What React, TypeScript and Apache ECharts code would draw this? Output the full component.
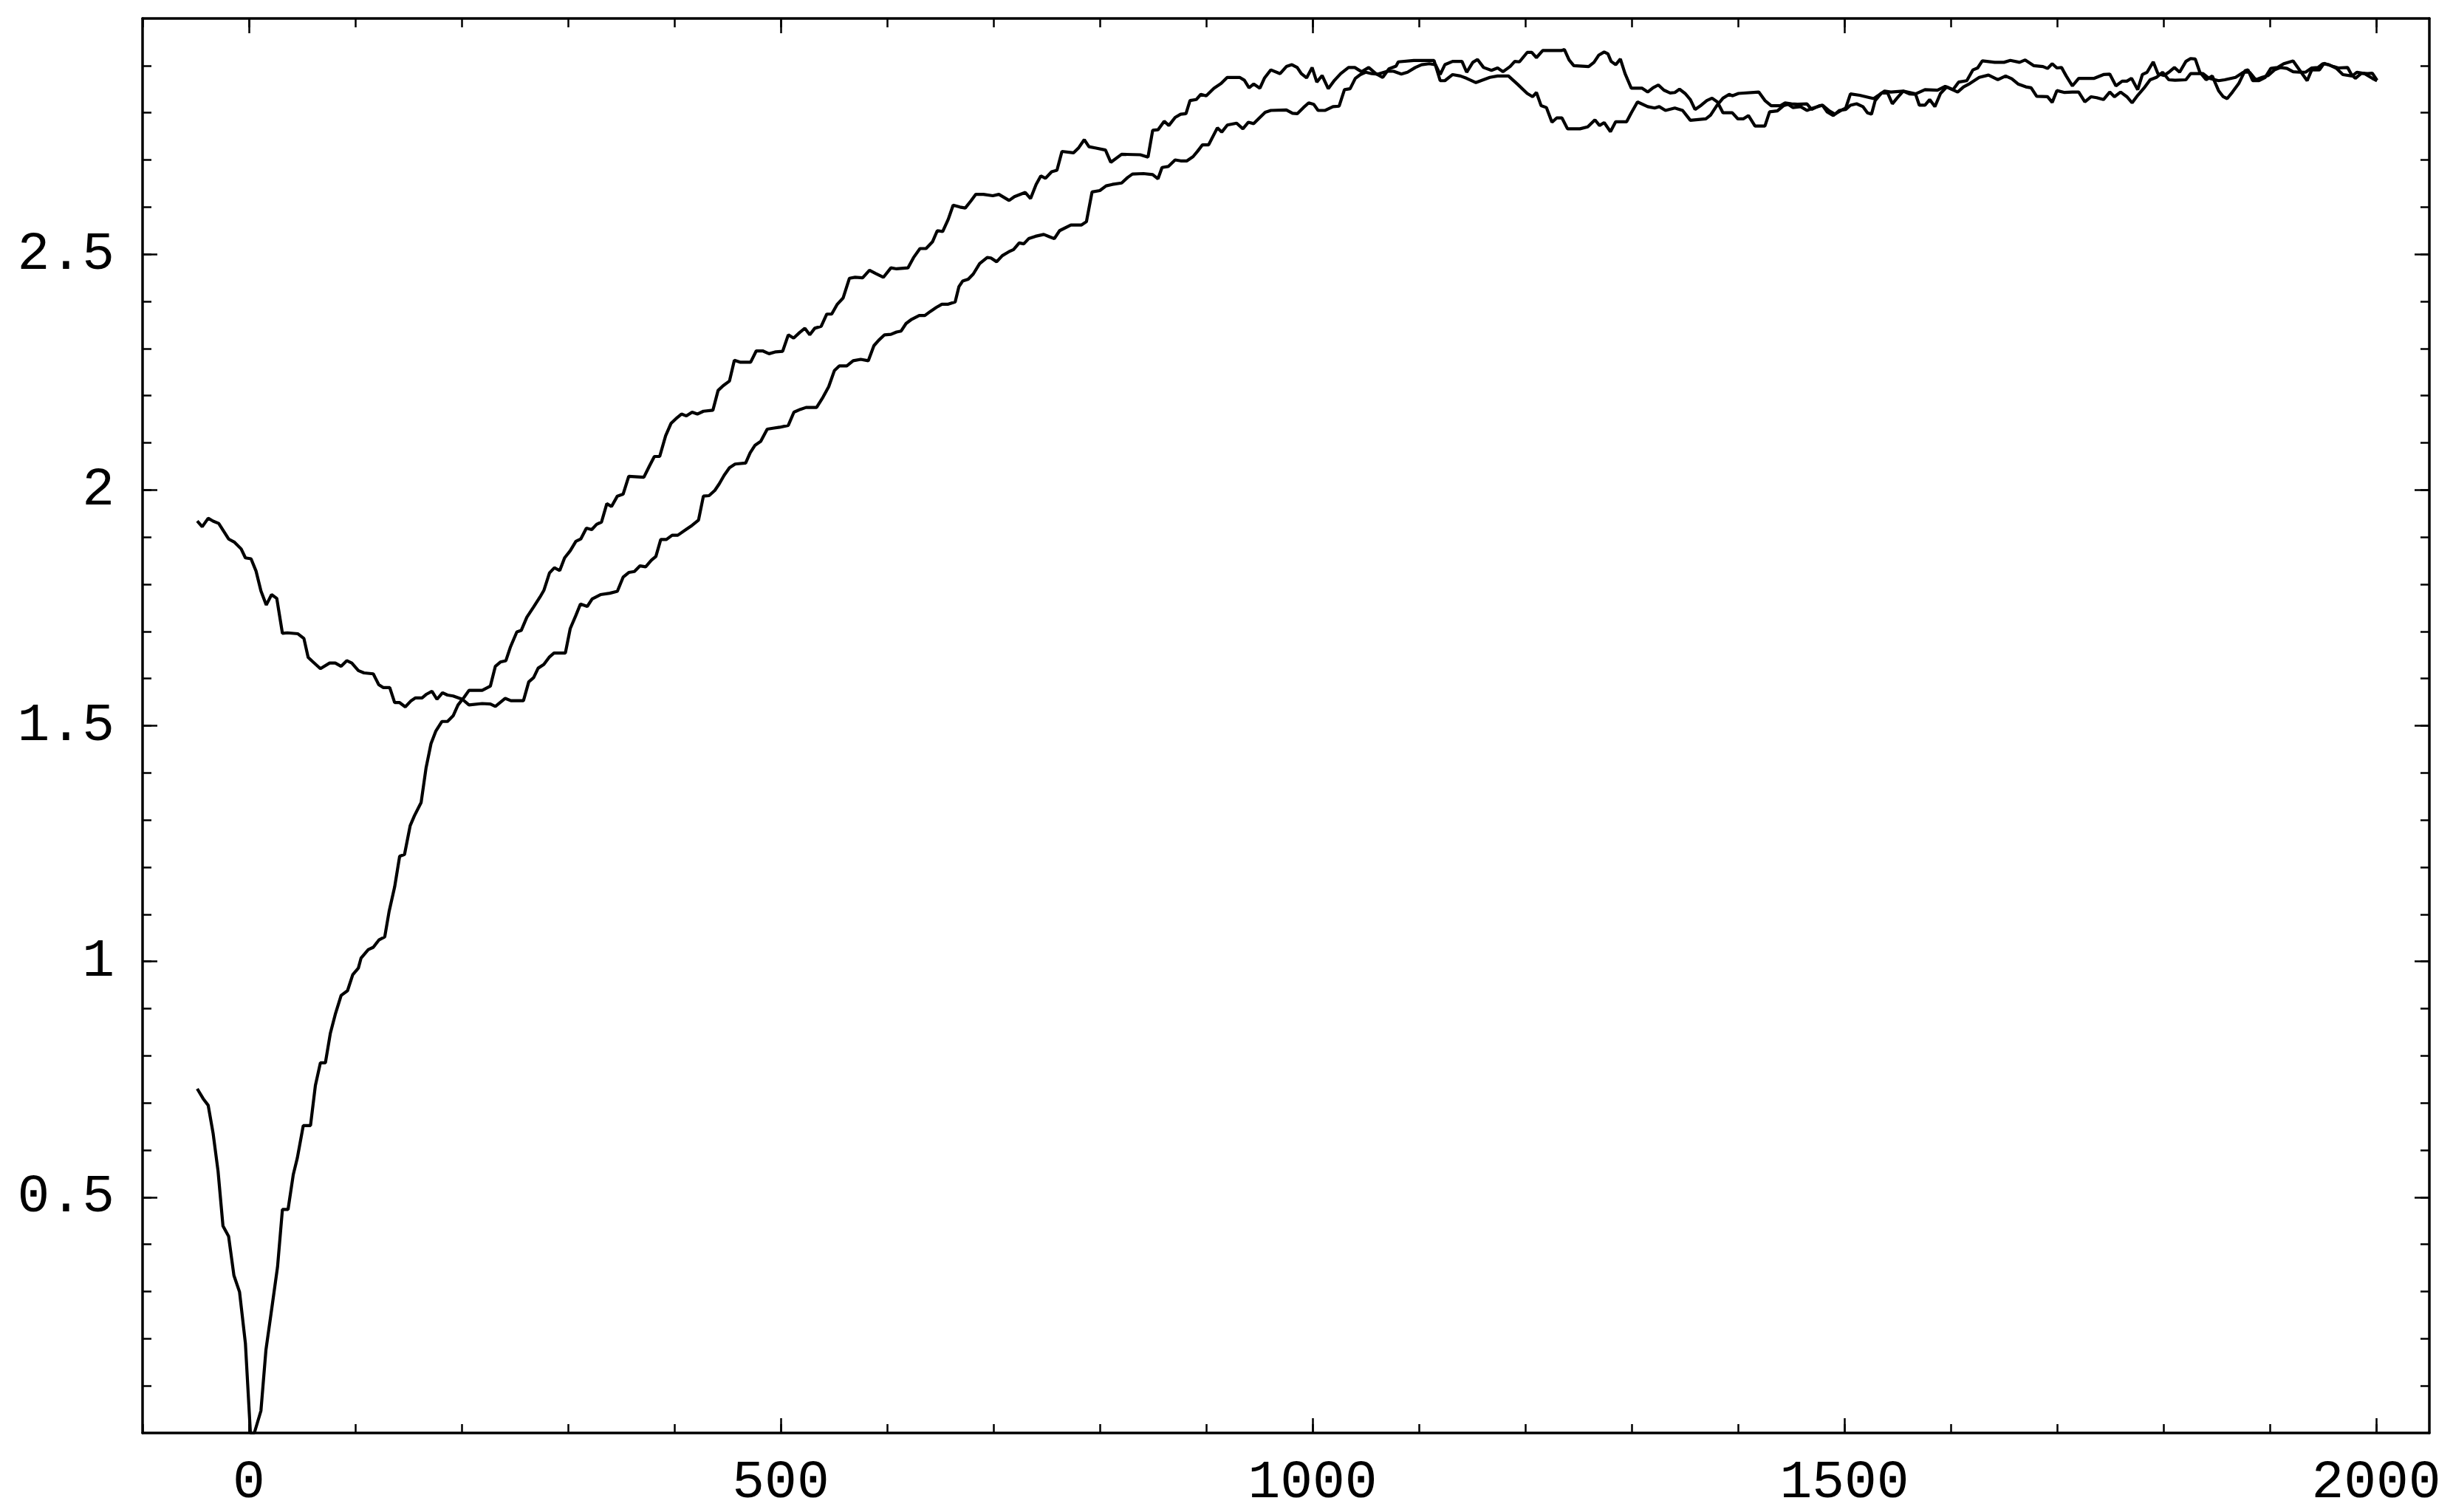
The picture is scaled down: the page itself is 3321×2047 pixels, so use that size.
import React, { useEffect, useRef } from 'react';
import * as echarts from 'echarts';

// tick positions
const xMajorTicks = [0, 500, 1000, 1500, 2000];
const yMajorTicks = [0.5, 1, 1.5, 2, 2.5];

// trace starting high on the left (~1.93), dips to ~1.54, then climbs
const traceA: [number, number][] = [
  [-48.6, 1.934], [-43.9, 1.922], [-38.3, 1.94], [-33.7, 1.934], [-28.4, 1.929], [-19.1, 1.896], [-13.5, 1.889],
  [-7.3, 1.875], [-3.3, 1.856], [2.0, 1.854], [6.7, 1.828], [11.3, 1.786], [16.3, 1.756], [21.3, 1.778],
  [26.2, 1.77], [31.5, 1.696], [36.2, 1.697], [46.1, 1.695], [51.7, 1.685], [55.7, 1.645], [59.4, 1.637],
  [67.2, 1.621], [75.9, 1.633], [81.2, 1.633], [86.7, 1.626], [92.0, 1.638], [96.7, 1.633], [102.9, 1.617],
  [108.2, 1.612], [116.9, 1.61], [122.1, 1.587], [126.2, 1.581], [132.4, 1.581], [137.0, 1.549], [141.7, 1.549],
  [147.0, 1.54], [152.5, 1.553], [156.6, 1.559], [162.8, 1.559], [167.1, 1.567], [172.1, 1.573], [176.8, 1.556],
  [182.0, 1.57], [186.7, 1.565], [192.0, 1.563], [200.7, 1.556], [206.9, 1.544], [219.3, 1.547], [227.0, 1.546],
  [231.7, 1.541], [241.0, 1.558], [246.3, 1.553], [258.1, 1.553], [263.1, 1.593], [267.7, 1.602], [271.9, 1.622],
  [277.3, 1.63], [282.6, 1.646], [286.8, 1.654], [297.5, 1.654], [302.1, 1.706], [307.4, 1.734], [311.7, 1.758],
  [318.1, 1.753], [322.7, 1.769], [330.5, 1.778], [339.3, 1.781], [346.4, 1.785], [351.8, 1.815], [357.1, 1.825],
  [362.4, 1.827], [367.7, 1.839], [373.0, 1.837], [378.4, 1.851], [382.6, 1.859], [387.2, 1.895], [392.5, 1.895],
  [397.9, 1.904], [403.2, 1.904], [410.3, 1.915], [416.7, 1.925], [422.7, 1.936], [427.3, 1.987], [432.6, 1.988],
  [438.0, 1.999], [442.2, 2.013], [446.8, 2.031], [451.8, 2.047], [457.1, 2.055], [467.0, 2.057], [471.3, 2.079],
  [475.9, 2.095], [481.2, 2.103], [487.3, 2.129], [492.6, 2.131], [499.0, 2.133], [507.1, 2.137], [512.4, 2.165],
  [518.5, 2.171], [523.8, 2.175], [533.7, 2.175], [539.8, 2.197], [545.1, 2.219], [550.4, 2.253], [555.0, 2.263],
  [562.1, 2.263], [568.1, 2.274], [575.2, 2.277], [582.3, 2.274], [587.6, 2.306], [592.3, 2.318], [597.6, 2.329],
  [603.6, 2.33], [608.9, 2.335], [613.2, 2.337], [617.8, 2.353], [623.1, 2.362], [630.2, 2.37], [635.5, 2.37],
  [640.9, 2.379], [646.2, 2.387], [651.5, 2.394], [657.5, 2.394], [664.0, 2.399], [667.5, 2.431], [671.0, 2.443],
  [676.3, 2.447], [681.0, 2.458], [687.0, 2.48], [694.1, 2.493], [697.6, 2.492], [703.0, 2.484], [708.3, 2.497],
  [714.3, 2.505], [718.9, 2.51], [724.2, 2.524], [728.5, 2.522], [733.1, 2.533], [739.5, 2.538], [747.3, 2.542],
  [752.6, 2.537], [757.2, 2.533], [762.2, 2.55], [772.8, 2.562], [782.8, 2.562], [787.4, 2.569], [792.7, 2.632],
  [800.0, 2.635], [805.9, 2.645], [811.7, 2.648], [820.5, 2.651], [826.3, 2.663], [830.7, 2.67], [841.0, 2.671],
  [849.7, 2.669], [854.7, 2.66], [858.5, 2.684], [864.3, 2.686], [870.8, 2.7], [876.0, 2.698], [881.9, 2.698],
  [887.7, 2.707], [892.1, 2.719], [896.5, 2.732], [902.3, 2.732], [910.5, 2.768], [914.6, 2.759], [919.9, 2.774],
  [928.6, 2.778], [934.5, 2.766], [939.7, 2.78], [944.7, 2.777], [950.5, 2.79], [955.5, 2.801], [960.8, 2.805],
  [975.4, 2.806], [981.2, 2.799], [985.6, 2.798], [991.4, 2.811], [996.4, 2.821], [1001.1, 2.818], [1005.2, 2.805],
  [1011.9, 2.805], [1019.2, 2.813], [1025.0, 2.814], [1030.0, 2.849], [1035.3, 2.851], [1040.2, 2.873],
  [1044.9, 2.881], [1049.9, 2.886], [1055.7, 2.883], [1061.6, 2.882], [1070.3, 2.888], [1076.2, 2.888],
  [1083.5, 2.882], [1089.3, 2.886], [1096.6, 2.896], [1102.5, 2.902], [1109.8, 2.904], [1115.6, 2.902],
  [1120.0, 2.881], [1124.4, 2.902], [1131.7, 2.909], [1140.5, 2.909], [1144.9, 2.886], [1150.7, 2.907],
  [1155.1, 2.913], [1160.8, 2.896], [1168.2, 2.89], [1174.0, 2.895], [1179.0, 2.887], [1185.7, 2.898],
  [1190.1, 2.909], [1194.5, 2.908], [1201.8, 2.928], [1206.1, 2.928], [1210.5, 2.917], [1216.4, 2.932],
  [1233.9, 2.932], [1236.8, 2.934], [1241.2, 2.912], [1245.6, 2.9], [1259.6, 2.898], [1264.6, 2.907],
  [1269.0, 2.922], [1274.2, 2.929], [1277.7, 2.925], [1280.7, 2.909], [1285.0, 2.902], [1289.4, 2.914],
  [1293.8, 2.883], [1299.7, 2.852], [1309.9, 2.852], [1315.1, 2.844], [1320.1, 2.853], [1325.1, 2.859],
  [1330.3, 2.848], [1336.2, 2.842], [1340.6, 2.843], [1345.0, 2.85], [1350.2, 2.841], [1355.2, 2.828],
  [1359.6, 2.807], [1365.4, 2.816], [1370.7, 2.826], [1375.6, 2.831], [1380.6, 2.823], [1385.9, 2.8],
  [1394.6, 2.8], [1399.9, 2.787], [1404.9, 2.787], [1409.8, 2.794], [1416.0, 2.772], [1425.3, 2.772],
  [1429.7, 2.802], [1437.0, 2.804], [1442.8, 2.815], [1447.2, 2.818], [1451.6, 2.811], [1458.9, 2.813],
  [1464.8, 2.805], [1470.6, 2.81], [1479.4, 2.816], [1483.7, 2.802], [1489.6, 2.794], [1495.4, 2.805],
  [1501.3, 2.807], [1505.7, 2.816], [1511.5, 2.819], [1517.4, 2.813], [1521.7, 2.8], [1525.5, 2.797],
  [1529.0, 2.826], [1534.9, 2.842], [1540.7, 2.842], [1545.1, 2.819], [1549.5, 2.831], [1555.3, 2.846],
  [1561.2, 2.84], [1567.0, 2.839], [1570.5, 2.816], [1575.8, 2.816], [1580.2, 2.828], [1585.1, 2.813],
  [1590.4, 2.841], [1596.3, 2.855], [1602.1, 2.849], [1607.4, 2.865], [1615.1, 2.868], [1620.9, 2.891],
  [1625.3, 2.895], [1629.7, 2.91], [1641.4, 2.907], [1650.1, 2.907], [1656.0, 2.911], [1664.7, 2.907],
  [1670.0, 2.912], [1677.9, 2.9], [1686.7, 2.898], [1691.0, 2.894], [1695.4, 2.904], [1699.8, 2.895],
  [1704.2, 2.896], [1708.6, 2.878], [1714.4, 2.857], [1720.3, 2.873], [1734.9, 2.873], [1743.6, 2.881],
  [1749.5, 2.882], [1755.3, 2.857], [1761.2, 2.867], [1765.6, 2.867], [1770.0, 2.873], [1775.8, 2.849],
  [1780.2, 2.881], [1784.6, 2.886], [1790.4, 2.908], [1794.8, 2.883], [1800.6, 2.879], [1805.0, 2.886],
  [1810.3, 2.896], [1815.2, 2.886], [1821.1, 2.909], [1825.5, 2.915], [1829.9, 2.914], [1834.2, 2.886],
  [1840.1, 2.87], [1845.9, 2.878], [1851.8, 2.847], [1856.2, 2.834], [1859.9, 2.83], [1864.9, 2.844],
  [1870.8, 2.862], [1876.6, 2.889], [1879.5, 2.891], [1883.9, 2.868], [1889.8, 2.868], [1895.6, 2.875],
  [1900.9, 2.894], [1907.3, 2.896], [1913.1, 2.904], [1921.9, 2.91], [1927.8, 2.891], [1935.1, 2.868],
  [1939.4, 2.891], [1946.7, 2.891], [1951.1, 2.905], [1959.9, 2.898], [1964.3, 2.895], [1973.1, 2.896],
  [1976.8, 2.881], [1980.4, 2.873], [1986.2, 2.884], [1992.0, 2.883], [1996.4, 2.884], [2000.8, 2.869],
];

// trace starting at ~0.73, touching 0 near x=0, then climbing steeply
const traceB: [number, number][] = [
  [-48.6, 0.73], [-43.0, 0.709], [-38.3, 0.695], [-33.7, 0.636], [-29.0, 0.555], [-24.4, 0.439], [-19.1, 0.417],
  [-14.1, 0.334], [-8.8, 0.299], [-3.3, 0.19], [1.4, 0.0], [5.1, 0.0], [11.3, 0.047], [16.0, 0.176],
  [21.3, 0.261], [26.9, 0.352], [31.5, 0.474], [36.8, 0.474], [41.7, 0.548], [45.5, 0.583], [51.1, 0.652],
  [57.9, 0.652], [62.5, 0.737], [67.2, 0.785], [71.9, 0.785], [76.5, 0.847], [81.2, 0.888], [86.7, 0.928],
  [92.7, 0.938], [97.6, 0.972], [102.9, 0.986], [105.4, 1.007], [112.2, 1.025], [116.9, 1.03], [122.4, 1.046],
  [127.7, 1.052], [131.8, 1.106], [137.0, 1.158], [141.7, 1.223], [146.3, 1.227], [151.6, 1.288], [155.6, 1.309],
  [161.9, 1.337], [166.5, 1.41], [171.2, 1.462], [175.8, 1.489], [181.4, 1.509], [186.7, 1.509], [192.0, 1.521],
  [196.6, 1.544], [202.2, 1.56], [206.9, 1.575], [219.3, 1.575], [227.0, 1.584], [231.7, 1.626], [236.4, 1.635],
  [241.6, 1.638], [245.7, 1.666], [251.9, 1.699], [256.0, 1.702], [261.3, 1.73], [267.7, 1.752], [273.7, 1.773],
  [277.3, 1.787], [282.6, 1.824], [287.2, 1.835], [292.2, 1.829], [296.8, 1.856], [302.1, 1.871], [307.4, 1.891],
  [312.0, 1.896], [317.3, 1.919], [322.3, 1.916], [326.9, 1.927], [331.5, 1.932], [336.5, 1.971], [340.9, 1.965],
  [346.4, 1.987], [351.8, 1.991], [357.1, 2.029], [371.3, 2.027], [376.6, 2.051], [381.2, 2.071], [386.2, 2.071],
  [391.8, 2.115], [396.8, 2.141], [401.4, 2.151], [406.7, 2.161], [411.3, 2.157], [416.7, 2.165], [421.6, 2.161],
  [427.3, 2.167], [436.2, 2.169], [441.1, 2.211], [445.8, 2.221], [451.8, 2.231], [456.4, 2.275], [461.7, 2.271],
  [471.7, 2.271], [477.0, 2.295], [483.0, 2.295], [489.0, 2.289], [495.4, 2.293], [501.8, 2.294], [507.1, 2.329],
  [512.1, 2.322], [517.8, 2.334], [522.7, 2.343], [527.3, 2.329], [532.0, 2.343], [538.0, 2.347], [543.3, 2.373],
  [547.9, 2.373], [553.2, 2.394], [558.6, 2.407], [564.6, 2.449], [569.9, 2.451], [577.0, 2.45], [583.4, 2.466],
  [589.4, 2.459], [596.5, 2.451], [603.6, 2.471], [608.9, 2.469], [619.6, 2.471], [624.9, 2.493], [630.9, 2.512],
  [636.6, 2.512], [642.6, 2.526], [647.2, 2.55], [652.2, 2.548], [657.5, 2.574], [662.1, 2.604], [668.5, 2.6],
  [673.5, 2.598], [678.8, 2.613], [683.4, 2.627], [690.5, 2.627], [699.4, 2.624], [705.1, 2.627], [714.7, 2.614],
  [719.7, 2.622], [729.9, 2.631], [734.9, 2.618], [740.1, 2.648], [744.5, 2.666], [748.9, 2.661], [754.7, 2.675],
  [759.7, 2.678], [764.4, 2.718], [775.2, 2.715], [780.2, 2.726], [785.4, 2.743], [789.8, 2.728], [796.5, 2.725],
  [805.3, 2.721], [810.3, 2.695], [820.5, 2.712], [838.0, 2.711], [845.3, 2.706], [849.7, 2.763], [854.7, 2.764],
  [860.5, 2.782], [864.9, 2.773], [870.8, 2.79], [876.0, 2.797], [881.0, 2.798], [884.8, 2.826], [890.6, 2.828],
  [895.0, 2.839], [900.0, 2.836], [907.3, 2.852], [914.0, 2.862], [919.8, 2.875], [931.5, 2.875], [935.9, 2.869],
  [940.3, 2.853], [944.7, 2.861], [950.5, 2.852], [954.9, 2.874], [960.8, 2.891], [969.5, 2.883], [975.4, 2.898],
  [980.6, 2.902], [985.6, 2.896], [989.4, 2.883], [994.4, 2.874], [999.6, 2.896], [1004.0, 2.865], [1009.0, 2.879],
  [1014.8, 2.851], [1020.7, 2.869], [1026.5, 2.883], [1033.8, 2.896], [1039.7, 2.896], [1046.1, 2.887],
  [1052.8, 2.896], [1059.5, 2.883], [1066.0, 2.875], [1071.8, 2.893], [1078.5, 2.899], [1080.6, 2.908],
  [1095.2, 2.911], [1114.2, 2.911], [1120.0, 2.868], [1124.4, 2.868], [1131.7, 2.881], [1139.0, 2.878],
  [1144.9, 2.873], [1153.6, 2.864], [1166.7, 2.875], [1174.0, 2.878], [1184.2, 2.878], [1193.0, 2.86],
  [1201.8, 2.841], [1207.0, 2.834], [1210.5, 2.843], [1214.9, 2.815], [1219.9, 2.811], [1225.1, 2.78],
  [1229.5, 2.789], [1234.5, 2.789], [1239.7, 2.766], [1251.4, 2.766], [1258.7, 2.77], [1265.5, 2.785],
  [1269.8, 2.773], [1274.2, 2.779], [1280.1, 2.76], [1285.0, 2.781], [1295.3, 2.781], [1299.7, 2.8],
  [1305.5, 2.823], [1315.1, 2.813], [1321.6, 2.81], [1326.0, 2.813], [1331.8, 2.805], [1340.6, 2.81],
  [1347.9, 2.805], [1355.2, 2.784], [1369.8, 2.787], [1374.2, 2.795], [1380.0, 2.815], [1385.9, 2.831],
  [1391.7, 2.839], [1394.6, 2.836], [1400.5, 2.841], [1419.5, 2.844], [1425.3, 2.826], [1431.2, 2.815],
  [1439.9, 2.815], [1444.3, 2.821], [1450.2, 2.819], [1456.0, 2.818], [1464.8, 2.819], [1469.2, 2.807],
  [1476.5, 2.815], [1479.4, 2.816], [1485.2, 2.805], [1491.1, 2.797], [1496.9, 2.805], [1501.3, 2.81],
  [1505.7, 2.84], [1514.4, 2.837], [1527.6, 2.83], [1537.8, 2.846], [1543.7, 2.844], [1555.3, 2.846],
  [1567.0, 2.84], [1575.8, 2.849], [1587.5, 2.848], [1594.8, 2.856], [1606.5, 2.844], [1612.1, 2.855],
  [1618.0, 2.862], [1626.8, 2.875], [1635.5, 2.88], [1644.3, 2.87], [1651.6, 2.878], [1657.4, 2.872],
  [1663.3, 2.861], [1670.6, 2.855], [1675.6, 2.853], [1680.8, 2.835], [1691.0, 2.834], [1695.4, 2.822],
  [1699.8, 2.847], [1707.1, 2.843], [1714.4, 2.844], [1720.3, 2.844], [1726.1, 2.823], [1732.0, 2.834],
  [1737.2, 2.832], [1743.6, 2.828], [1749.5, 2.844], [1753.9, 2.834], [1759.7, 2.844], [1765.6, 2.834],
  [1770.5, 2.821], [1775.8, 2.837], [1781.6, 2.852], [1787.5, 2.87], [1793.3, 2.875], [1799.2, 2.886],
  [1805.0, 2.87], [1810.9, 2.869], [1821.1, 2.87], [1825.5, 2.883], [1837.2, 2.883], [1843.0, 2.873],
  [1851.8, 2.868], [1857.6, 2.87], [1867.8, 2.875], [1875.2, 2.886], [1881.0, 2.886], [1886.8, 2.87],
  [1892.7, 2.875], [1898.5, 2.879], [1904.4, 2.891], [1910.2, 2.896], [1916.1, 2.894], [1921.9, 2.887],
  [1927.8, 2.886], [1933.6, 2.886], [1939.4, 2.895], [1945.3, 2.896], [1949.7, 2.904], [1955.5, 2.902],
  [1962.8, 2.894], [1968.7, 2.881], [1977.4, 2.878], [1981.8, 2.886], [1989.1, 2.883], [1996.4, 2.873],
  [2000.8, 2.868],
];

const X_MIN = -100;
const X_MAX = 2050;
const Y_MIN = 0;
const Y_MAX = 3;

// minor ticks every 100 on x, every 0.1 on y
const xMinorTicks: number[] = [];
for (let v = -100; v <= 2000; v += 100) xMinorTicks.push(v);
const yMinorTicks: number[] = [];
for (let i = 1; i < 30; i++) yMinorTicks.push(i / 10);

const FONT = '"Liberation Mono", "DejaVu Sans Mono", monospace';

const lineCol = '#000';

const makeX = (pos: 'top' | 'bottom', major: boolean, labels: boolean) => ({
  type: 'value',
  min: X_MIN,
  max: X_MAX,
  position: pos,
  axisLine: { show: major, onZero: false, lineStyle: { color: lineCol, width: 3.5 } },
  axisTick: {
    show: true,
    inside: true,
    length: major ? 20 : 12,
    customValues: major ? xMajorTicks : xMinorTicks,
    lineStyle: { color: lineCol, width: 2.5 },
  },
  axisLabel: labels
    ? {
        show: true,
        customValues: xMajorTicks,
        margin: 67,
        verticalAlign: 'middle',
        lineHeight: 50,
        color: '#000',
        fontFamily: FONT,
        fontSize: 73,
        formatter: (v: number) => String(v),
      }
    : { show: false },
  splitLine: { show: false },
});

const makeY = (pos: 'left' | 'right', major: boolean, labels: boolean) => ({
  type: 'value',
  min: Y_MIN,
  max: Y_MAX,
  position: pos,
  axisLine: { show: major, onZero: false, lineStyle: { color: lineCol, width: 3.5 } },
  axisTick: {
    show: true,
    inside: true,
    length: major ? 20 : 12,
    customValues: major ? yMajorTicks : yMinorTicks,
    lineStyle: { color: lineCol, width: 2.5 },
  },
  axisLabel: labels
    ? {
        show: true,
        customValues: yMajorTicks,
        margin: 38,
        color: '#000',
        fontFamily: FONT,
        fontSize: 73,
        formatter: (v: number) => String(v),
      }
    : { show: false },
  splitLine: { show: false },
});

const App: React.FC = () => {
  const chartRef = useRef<HTMLDivElement>(null);

  useEffect(() => {
    const chart = echarts.init(chartRef.current!, null, { renderer: 'svg' });

    const options = {
      animation: false,
      backgroundColor: '#fff',
      grid: {
        left: 193,
        right: 32,
        top: 25,
        bottom: 107,
        outerBoundsMode: 'none',
      },
      xAxis: [
        makeX('bottom', true, true),
        makeX('bottom', false, false),
        makeX('top', true, false),
        makeX('top', false, false),
      ],
      yAxis: [
        makeY('left', true, true),
        makeY('left', false, false),
        makeY('right', true, false),
        makeY('right', false, false),
      ],
      series: [
        {
          type: 'line',
          data: traceA,
          xAxisIndex: 0,
          yAxisIndex: 0,
          showSymbol: false,
          lineStyle: { color: '#000', width: 4.2 },
          silent: true,
        },
        {
          type: 'line',
          data: traceB,
          xAxisIndex: 0,
          yAxisIndex: 0,
          showSymbol: false,
          lineStyle: { color: '#000', width: 4.2 },
          silent: true,
        },
      ],
    };

    chart.setOption(options);

    return () => {
      chart.dispose();
    };
  }, []);

  return (
    <div
      ref={chartRef}
      style={{ position: 'fixed', left: 0, top: 0, width: '3321px', height: '2047px', background: '#fff' }}
    />
  );
};

export default App;
